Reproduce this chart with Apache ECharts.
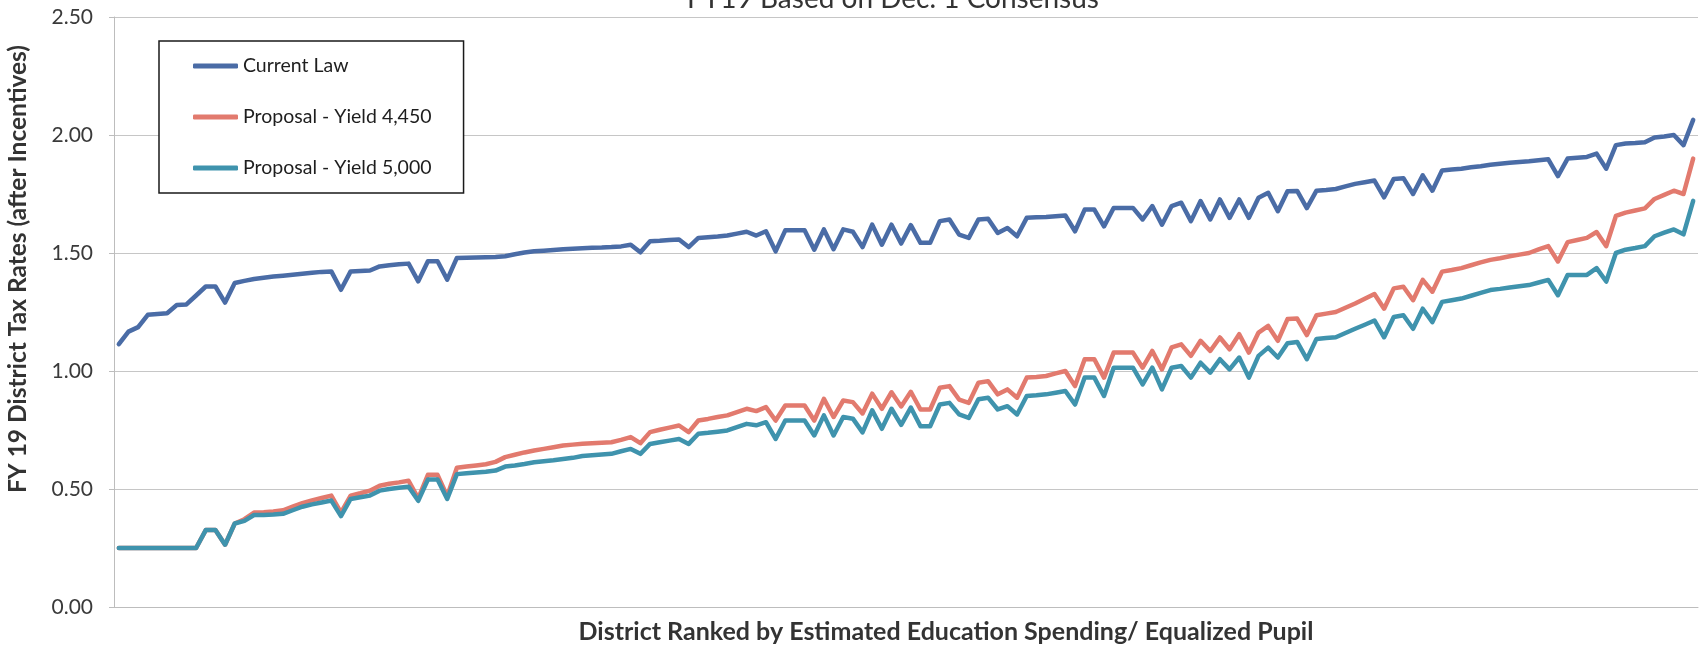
<!DOCTYPE html>
<html>
<head>
<meta charset="utf-8">
<title>FY19 District Tax Rates</title>
<script src="https://cdn.jsdelivr.net/npm/echarts@6/dist/echarts.min.js"></script>
<style>
  html, body { margin: 0; padding: 0; background: #ffffff; }
  #chart { width: 1701px; height: 645px; }
</style>
</head>
<body>
<div id="chart"></div>
<script>
// FY19 district tax rates (after incentives), districts ranked by estimated
// education spending per equalized pupil.
const seriesNames = ['Current Law', 'Proposal - Yield 4,450', 'Proposal - Yield 5,000'];

const currentLaw = [
  1.114, 1.167, 1.186, 1.238, 1.242, 1.245, 1.280, 1.282, 1.320, 1.358,
  1.358, 1.290, 1.373, 1.382, 1.390, 1.395, 1.400, 1.404, 1.408, 1.412,
  1.416, 1.420, 1.422, 1.344, 1.422, 1.424, 1.426, 1.443, 1.448, 1.452,
  1.455, 1.380, 1.465, 1.465, 1.387, 1.479, 1.480, 1.481, 1.482, 1.483,
  1.486, 1.495, 1.502, 1.507, 1.510, 1.513, 1.516, 1.518, 1.520, 1.522,
  1.523, 1.525, 1.528, 1.535, 1.503, 1.550, 1.552, 1.555, 1.557, 1.525,
  1.564, 1.567, 1.570, 1.574, 1.582, 1.590, 1.574, 1.592, 1.507, 1.596,
  1.596, 1.596, 1.514, 1.600, 1.516, 1.600, 1.590, 1.525, 1.620, 1.535,
  1.620, 1.540, 1.618, 1.543, 1.543, 1.635, 1.642, 1.578, 1.564, 1.642,
  1.645, 1.585, 1.606, 1.571, 1.649, 1.651, 1.653, 1.656, 1.659, 1.592,
  1.684, 1.684, 1.613, 1.691, 1.691, 1.691, 1.642, 1.699, 1.620, 1.699,
  1.713, 1.635, 1.720, 1.642, 1.727, 1.649, 1.727, 1.649, 1.734, 1.755,
  1.677, 1.762, 1.763, 1.690, 1.764, 1.767, 1.771, 1.782, 1.793, 1.800,
  1.807, 1.736, 1.814, 1.817, 1.750, 1.829, 1.764, 1.850, 1.854, 1.857,
  1.863, 1.868, 1.874, 1.878, 1.882, 1.886, 1.889, 1.893, 1.897, 1.826,
  1.900, 1.904, 1.907, 1.921, 1.857, 1.957, 1.964, 1.966, 1.969, 1.989,
  1.994, 2.000, 1.957, 2.064
];

const yield4450 = [
  0.250, 0.250, 0.250, 0.250, 0.250, 0.250, 0.250, 0.250, 0.250, 0.326,
  0.326, 0.264, 0.354, 0.372, 0.400, 0.402, 0.405, 0.410, 0.425, 0.440,
  0.452, 0.462, 0.472, 0.400, 0.472, 0.482, 0.493, 0.514, 0.522, 0.528,
  0.535, 0.460, 0.560, 0.560, 0.470, 0.590, 0.595, 0.600, 0.605, 0.615,
  0.635, 0.645, 0.655, 0.663, 0.670, 0.677, 0.684, 0.688, 0.692, 0.694,
  0.696, 0.698, 0.708, 0.720, 0.694, 0.741, 0.751, 0.760, 0.769, 0.741,
  0.790, 0.797, 0.805, 0.812, 0.826, 0.840, 0.830, 0.847, 0.790, 0.854,
  0.854, 0.854, 0.790, 0.882, 0.805, 0.875, 0.868, 0.820, 0.904, 0.840,
  0.910, 0.850, 0.912, 0.837, 0.837, 0.929, 0.936, 0.879, 0.865, 0.950,
  0.957, 0.901, 0.922, 0.887, 0.972, 0.975, 0.979, 0.990, 1.000, 0.936,
  1.050, 1.050, 0.972, 1.078, 1.078, 1.078, 1.014, 1.085, 1.007, 1.100,
  1.113, 1.064, 1.128, 1.085, 1.142, 1.092, 1.156, 1.078, 1.163, 1.191,
  1.128, 1.220, 1.222, 1.152, 1.236, 1.243, 1.250, 1.268, 1.286, 1.306,
  1.326, 1.264, 1.350, 1.357, 1.300, 1.386, 1.336, 1.421, 1.428, 1.436,
  1.448, 1.460, 1.471, 1.478, 1.486, 1.493, 1.500, 1.515, 1.529, 1.464,
  1.546, 1.555, 1.564, 1.589, 1.529, 1.657, 1.671, 1.680, 1.689, 1.729,
  1.746, 1.764, 1.750, 1.900
];

const yield5000 = [
  0.250, 0.250, 0.250, 0.250, 0.250, 0.250, 0.250, 0.250, 0.250, 0.326,
  0.326, 0.264, 0.354, 0.365, 0.390, 0.390, 0.392, 0.395, 0.410, 0.425,
  0.435, 0.443, 0.451, 0.385, 0.458, 0.465, 0.472, 0.493, 0.500, 0.505,
  0.510, 0.450, 0.540, 0.540, 0.458, 0.563, 0.567, 0.570, 0.573, 0.578,
  0.595, 0.600, 0.606, 0.613, 0.618, 0.622, 0.627, 0.632, 0.640, 0.643,
  0.646, 0.649, 0.660, 0.670, 0.649, 0.691, 0.698, 0.705, 0.712, 0.691,
  0.734, 0.738, 0.743, 0.748, 0.762, 0.776, 0.770, 0.783, 0.712, 0.790,
  0.790, 0.790, 0.727, 0.812, 0.727, 0.805, 0.798, 0.740, 0.833, 0.755,
  0.840, 0.772, 0.845, 0.766, 0.766, 0.858, 0.865, 0.816, 0.801, 0.880,
  0.887, 0.837, 0.851, 0.816, 0.894, 0.897, 0.901, 0.908, 0.915, 0.858,
  0.972, 0.972, 0.894, 1.014, 1.014, 1.014, 0.943, 1.014, 0.922, 1.014,
  1.021, 0.972, 1.035, 0.993, 1.050, 1.007, 1.057, 0.972, 1.064, 1.099,
  1.057, 1.118, 1.123, 1.050, 1.136, 1.140, 1.143, 1.161, 1.179, 1.196,
  1.214, 1.143, 1.229, 1.236, 1.179, 1.264, 1.207, 1.293, 1.300, 1.307,
  1.319, 1.331, 1.343, 1.348, 1.354, 1.359, 1.364, 1.375, 1.386, 1.321,
  1.407, 1.407, 1.407, 1.436, 1.379, 1.500, 1.514, 1.521, 1.529, 1.571,
  1.586, 1.600, 1.579, 1.721
];

// District rank along the horizontal axis (1 = lowest spending).
const districtRank = currentLaw.map((_, i) => i + 1);

const yTicks = { min: 0, max: 2.5, interval: 0.5 };

const titleText = 'FY19 Based on Dec. 1 Consensus';
const xTitle = 'District Ranked by Estimated Education Spending/ Equalized Pupil';
const yTitle = 'FY 19 District Tax Rates (after Incentives)';

const colors = ['#4a6ca6', '#e27a6e', '#3f93ad'];
const uiFont = 'Lato, "Open Sans", sans-serif';

const chart = echarts.init(document.getElementById('chart'), null, { renderer: 'canvas' });

const lineSeries = (name, data, color) => ({
  name: name,
  type: 'line',
  data: data,
  symbol: 'none',
  smooth: false,
  animation: false,
  lineStyle: { color: color, width: 4.5, cap: 'round', join: 'round' },
  itemStyle: { color: color }
});

chart.setOption({
  backgroundColor: '#ffffff',
  animation: false,
  graphic: [{
    type: 'text',
    x: 893,
    y: 13,
    style: {
      text: titleText,
      font: '28px ' + uiFont,
      fill: '#333333',
      textAlign: 'center',
      textVerticalAlign: 'bottom'
    }
  }],
  grid: {
    left: 114, right: 3, top: 17, bottom: 38,
    containLabel: false,
    outerBoundsMode: 'none'
  },
  legend: {
    orient: 'vertical',
    left: 159,
    top: 41,
    padding: [13, 32, 13, 34],
    icon: 'roundRect',
    itemWidth: 45,
    itemHeight: 5,
    itemGap: 27,
    borderColor: '#1a1a1a',
    borderWidth: 1.5,
    backgroundColor: '#ffffff',
    textStyle: { fontFamily: uiFont, fontSize: 19.5, color: '#1e1e1e', lineHeight: 24, width: 186 },
    data: seriesNames
  },
  xAxis: {
    type: 'category',
    data: districtRank,
    boundaryGap: true,
    name: xTitle,
    nameLocation: 'middle',
    nameGap: 12,
    nameTextStyle: {
      fontFamily: uiFont, fontSize: 25, fontWeight: 'bold', color: '#333333',
      padding: [0, 0, 0, 80]
    },
    axisLine: { show: true, lineStyle: { color: '#bdbdbd', width: 1 } },
    axisTick: { show: false },
    axisLabel: { show: false },
    splitLine: { show: false }
  },
  yAxis: {
    type: 'value',
    min: yTicks.min,
    max: yTicks.max,
    interval: yTicks.interval,
    name: yTitle,
    nameLocation: 'middle',
    nameGap: 83,
    nameTextStyle: {
      fontFamily: uiFont, fontSize: 24.5, fontWeight: 'bold', color: '#333333',
      padding: [0, 0, 0, 86]
    },
    axisLine: { show: true, lineStyle: { color: '#bdbdbd', width: 1 } },
    axisTick: { show: true, length: 5, lineStyle: { color: '#bdbdbd' } },
    axisLabel: {
      margin: 21,
      fontFamily: uiFont,
      fontSize: 21,
      color: '#3a3a3a',
      formatter: v => v.toFixed(2)
    },
    splitLine: { show: true, lineStyle: { color: '#c6c6c6', width: 1 } }
  },
  series: [
    lineSeries(seriesNames[0], currentLaw, colors[0]),
    lineSeries(seriesNames[1], yield4450, colors[1]),
    lineSeries(seriesNames[2], yield5000, colors[2])
  ]
});
</script>
</body>
</html>
